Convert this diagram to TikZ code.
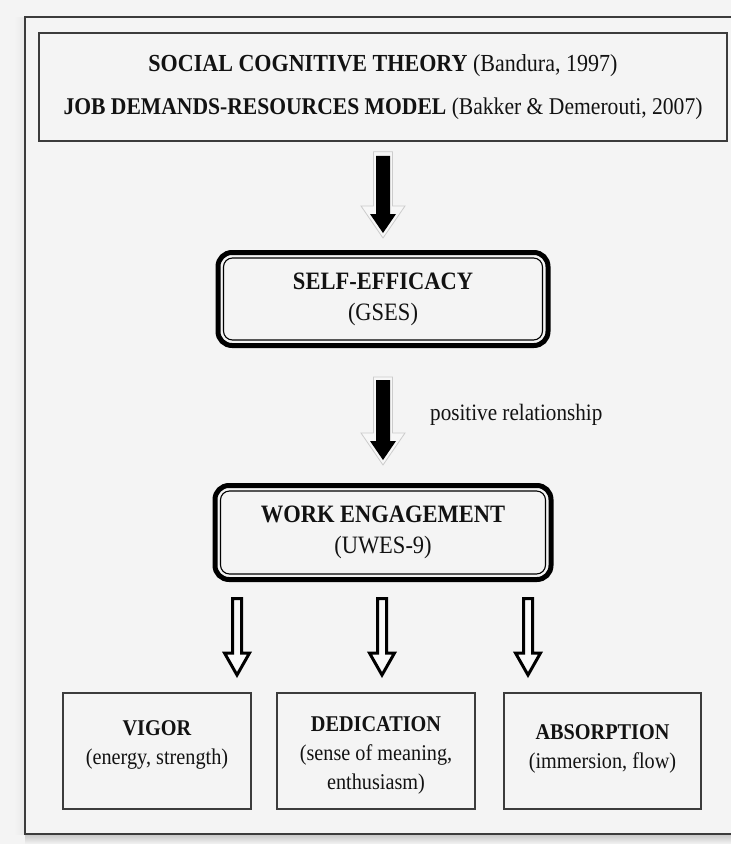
\documentclass[tikz,border=0pt]{standalone}
\usepackage{fontspec}
\setmainfont{Liberation Serif}[FakeStretch=0.9]
\usetikzlibrary{calc}
\definecolor{bg}{RGB}{244,244,244}
\definecolor{ln}{RGB}{60,60,60}
\definecolor{ink}{RGB}{18,18,18}
% block arrow: #1 start, #2 tip, #3 shaft half width, #4 head half width, #5 head length, #6 style
\newcommand{\blockarr}[6]{%
  \path[#6] ($(#1)+(-#3,0)$) -- ($(#1)+(#3,0)$) -- ($(#2)+(#3,-#5)$) -- ($(#2)+(#4,-#5)$)
    -- (#2) -- ($(#2)+(-#4,-#5)$) -- ($(#2)+(-#3,-#5)$) -- cycle;}
\begin{document}
\begin{tikzpicture}[x=1pt,y=-1pt,
  titlebox/.style={draw=ln, line width=1.5pt, fill=bg, minimum width=688pt, minimum height=108pt,
    align=center, text=ink, inner sep=0pt},
  dbox/.style={draw=black, line width=5pt, rounded corners=14pt, fill=bg, align=center, text=ink,
    font=\fontsize{25}{27}\selectfont, inner sep=0pt},
  smallbox/.style={draw=ln, line width=1.5pt, fill=bg, minimum height=116pt, inner sep=0pt},
  lbl/.style={align=center, text=ink, inner sep=0pt, font=\fontsize{22.5}{29}\selectfont},
  innerline/.style={draw=black, line width=1.1pt, rounded corners=9pt},
  fatfill/.style={fill=black},
  fatrim/.style={fill=white!97!black, draw=gray!40, line width=0.8pt},
  hollow/.style={draw=black, line width=3pt, fill=white!98!black, line join=miter}
]
\useasboundingbox (0,0) rectangle (731,844);
\clip (0,0) rectangle (731,844);
\fill[bg] (0,0) rectangle (731,844);
% shadow of the outer frame
\shade[top color=gray!45, bottom color=bg] (25,834) rectangle (731,844);
\shade[left color=bg, right color=gray!18] (14,17) rectangle (25,834);
% outer frame
\draw[ln, line width=1.5pt, fill=bg] (25,17) rectangle (760,834);

% top box
\node[titlebox] (top) at (383,87)
  {\fontsize{24.5}{26}\selectfont\textbf{SOCIAL COGNITIVE THEORY} (Bandura, 1997)\\[21pt]
   \fontsize{24}{26}\selectfont\textbf{JOB DEMANDS-RESOURCES MODEL} (Bakker \& Demerouti, 2007)};

% self-efficacy
\node[dbox, minimum width=330pt, minimum height=93pt] (se) at (383,299)
  {\textbf{SELF-EFFICACY}\\[4pt](GSES)};
\draw[innerline] ($(se.north west)+(8,8)$) rectangle ($(se.south east)+(-8,-8)$);

% work engagement
\node[dbox, minimum width=336pt, minimum height=94pt] (we) at (383,532.5)
  {\textbf{WORK ENGAGEMENT}\\[4pt](UWES-9)};
\draw[innerline] ($(we.north west)+(8,8)$) rectangle ($(we.south east)+(-8,-8)$);

% bottom boxes
\node[smallbox, minimum width=188pt] (vig) at (157,751) {};
\node[smallbox, minimum width=198pt] (ded) at (376,751) {};
\node[smallbox, minimum width=197pt] (abs) at (602.5,751) {};
\node[lbl] (vigt) at (157,745) {\textbf{VIGOR}\\(energy, strength)};
\node[lbl] (dedt) at (376,755) {\textbf{DEDICATION}\\(sense of meaning,\\enthusiasm)};
\node[lbl] (abst) at (602.5,749) {\textbf{ABSORPTION}\\(immersion, flow)};

% arrow 1: theory -> self-efficacy
\coordinate (a1r) at ($(top.south)+(0,10)$);
\coordinate (a1q) at ($(se.north)+(0,-12)$);
\coordinate (a1s) at ($(top.south)+(0,14)$);
\coordinate (a1e) at ($(se.north)+(0,-17)$);
\blockarr{a1r}{a1q}{9.5}{22}{32}{fatrim}
\blockarr{a1s}{a1e}{7}{13}{19}{fatfill}

% arrow 2: self-efficacy -> work engagement
\coordinate (a2r) at ($(se.south)+(0,29)$);
\coordinate (a2q) at ($(we.north)+(0,-18)$);
\coordinate (a2s) at ($(se.south)+(0,32)$);
\coordinate (a2e) at ($(we.north)+(0,-23)$);
\blockarr{a2r}{a2q}{9.5}{22}{32}{fatrim}
\blockarr{a2s}{a2e}{7}{13}{19}{fatfill}
\node[anchor=west, text=ink, font=\fontsize{23.5}{25}\selectfont, inner sep=0pt] (pos) at (430,415)
  {positive relationship};

% hollow arrows to the three dimensions
\coordinate (h1s) at (237,598.5); \coordinate (h1e) at (237,675);
\coordinate (h2s) at (382,598.5); \coordinate (h2e) at (382,675);
\coordinate (h3s) at (528,598.5); \coordinate (h3e) at (528,675);
\blockarr{h1s}{h1e}{4.5}{12.5}{22}{hollow}
\blockarr{h2s}{h2e}{4.5}{12.5}{22}{hollow}
\blockarr{h3s}{h3e}{4.5}{12.5}{22}{hollow}
\end{tikzpicture}
\end{document}
